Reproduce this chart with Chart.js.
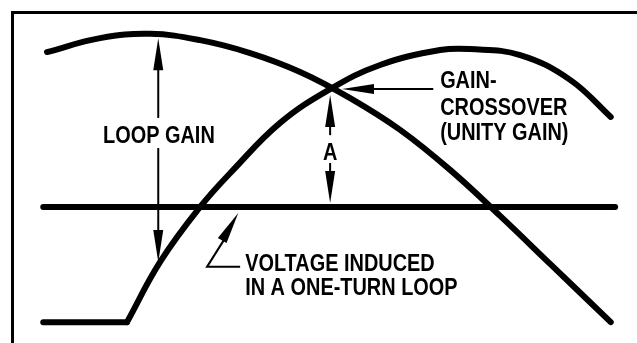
<!DOCTYPE html>
<html>
<head>
<meta charset="utf-8">
<script src="https://cdn.jsdelivr.net/npm/chart.js@4.4.1/dist/chart.umd.min.js"></script>
<style>
  html, body { margin: 0; padding: 0; background: #fff; }
  canvas { display: block; }
</style>
</head>
<body>
<canvas id="loopChart" width="637" height="343"></canvas>
<script>
// Loop gain curve (falls off at high frequency)
const gainX = [5.6, 14.1, 22.1, 30.1, 38.1, 46.1, 54.1, 62.1, 70.1, 78.1, 86.1, 95.8];
const gainY = [87.9, 92.1, 93.4, 91.5, 87.6, 81.9, 74.0, 64.4, 52.3, 38.4, 23.9, 6.3];

// second curve: flat floor, then rising arch
const floorX = [5.0, 18.4];
const floorY = [6.3, 6.3];
const riseX = [18.4, 23.7, 30.1, 35.4, 42.9, 50.9, 58.9, 68.5, 73.3, 81.3, 89.3, 95.8];
const riseY = [6.3, 24.5, 41.1, 52.3, 66.5, 76.7, 84.0, 88.5, 88.8, 87.0, 79.5, 68.3];

// voltage induced in a one-turn loop (flat)
const levelX = [5.0, 96.5];
const levelY = [41.1, 41.1];

const crossLabel = ['GAIN-', 'CROSSOVER', '(UNITY GAIN)'];
const voltLabel = ['VOLTAGE INDUCED', 'IN A ONE-TURN LOOP'];

const pts = (xs, ys) => xs.map((x, i) => ({ x: x, y: ys[i] }));

const lineStyle = {
    borderColor: '#000',
    borderWidth: 6,
    pointRadius: 0,
    fill: false,
    borderCapStyle: 'round',
    borderJoinStyle: 'round'
};

function arrowHead(ctx, tx, ty, fx, fy) {
    // long thin filled head pointing at (tx, ty), coming from (fx, fy)
    const ang = Math.atan2(ty - fy, tx - fx);
    const len = 32, half = 5;
    ctx.save();
    ctx.translate(tx, ty);
    ctx.rotate(ang);
    ctx.beginPath();
    ctx.moveTo(0, 0);
    ctx.lineTo(-len, -half);
    ctx.lineTo(-len, half);
    ctx.closePath();
    ctx.fill();
    ctx.restore();
}

function seg(ctx, x1, y1, x2, y2) {
    ctx.beginPath();
    ctx.moveTo(x1, y1);
    ctx.lineTo(x2, y2);
    ctx.stroke();
}

// condensed lettering: squeeze a normal face horizontally
function label(ctx, t, x, y, align) {
    ctx.save();
    ctx.translate(x, y);
    ctx.scale(0.83, 1);
    ctx.textAlign = align;
    ctx.fillText(t, 0, 0);
    ctx.restore();
}

const notes = {
    id: 'notes',
    afterDatasetsDraw(chart) {
        const ctx = chart.ctx;
        const xs = chart.scales.x, ys = chart.scales.y;
        const X = v => xs.getPixelForValue(v);
        const Y = v => ys.getPixelForValue(v);
        ctx.save();
        ctx.strokeStyle = '#000';
        ctx.fillStyle = '#000';
        ctx.lineWidth = 2;
        ctx.font = 'bold 24px "Liberation Sans", Arial, sans-serif';
        ctx.textBaseline = 'alphabetic';

        // LOOP GAIN double arrow
        const lx = X(23.4);
        seg(ctx, lx, Y(92.1) + 20, lx, Y(68.0));
        seg(ctx, lx, Y(58.9), lx, Y(24.5) - 20);
        arrowHead(ctx, lx, Y(92.1), lx, Y(80));
        arrowHead(ctx, lx, Y(24.5), lx, Y(40));
        label(ctx, 'LOOP GAIN', X(23.5), Y(60.4), 'center');

        // A double arrow
        const ax = X(50.9);
        seg(ctx, ax, Y(74.9) + 20, ax, Y(62.8));
        seg(ctx, ax, Y(54.4), ax, Y(42.3) - 20);
        arrowHead(ctx, ax, Y(74.9), ax, Y(65));
        arrowHead(ctx, ax, Y(42.3), ax, Y(50));
        label(ctx, 'A', ax, Y(55.3), 'center');

        // gain-crossover pointer
        const cy = Y(76.7);
        seg(ctx, X(52.8) + 20, cy, X(67.4), cy);
        arrowHead(ctx, X(52.8), cy, X(60), cy);
        const gy = [77.0, 68.9, 61.3];
        crossLabel.forEach((t, i) => label(ctx, t, X(68.5), Y(gy[i]), 'left'));

        // voltage leader
        ctx.beginPath();
        ctx.moveTo(X(36.5), Y(23.0));
        ctx.lineTo(X(31.2), Y(23.0));
        ctx.lineTo(X(34.7), Y(33.5));
        ctx.stroke();
        arrowHead(ctx, X(36.2), Y(39.3), X(31.2), Y(23.0));
        const vy = [21.8, 14.5];
        voltLabel.forEach((t, i) => label(ctx, t, X(37.3), Y(vy[i]), 'left'));
        ctx.restore();
    }
};

const ctx = document.getElementById('loopChart').getContext('2d');
const loopChart = new Chart(ctx, {
    type: 'line',
    data: {
        datasets: [
            Object.assign({ data: pts(gainX, gainY), tension: 0.4 }, lineStyle),
            Object.assign({ data: pts(floorX, floorY), tension: 0 }, lineStyle),
            Object.assign({ data: pts(riseX, riseY), tension: 0.4 }, lineStyle),
            Object.assign({ data: pts(levelX, levelY), tension: 0, borderCapStyle: 'butt' }, lineStyle)
        ]
    },
    options: {
        responsive: false,
        animation: false,
        devicePixelRatio: 1,
        layout: { padding: { left: 12, top: 12, right: 0, bottom: 0 } },
        plugins: { legend: { display: false }, tooltip: { enabled: false } },
        scales: {
            x: {
                type: 'linear', position: 'top', min: 0, max: 100,
                grid: { display: false, drawTicks: false },
                ticks: { display: false },
                border: { display: true, color: '#000', width: 3 }
            },
            y: {
                type: 'linear', position: 'left', min: 0, max: 100,
                grid: { display: false, drawTicks: false },
                ticks: { display: false },
                border: { display: true, color: '#000', width: 3 }
            }
        }
    },
    plugins: [notes]
});
</script>
</body>
</html>
